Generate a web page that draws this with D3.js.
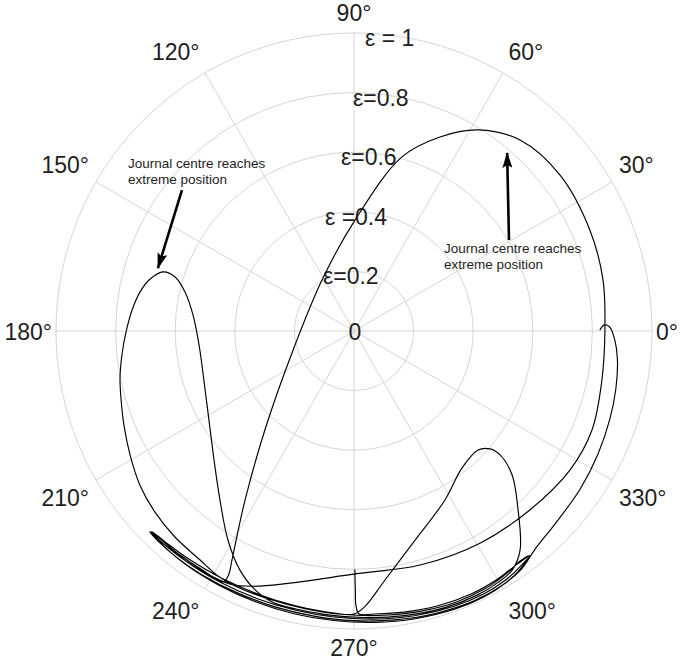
<!DOCTYPE html>
<html>
<head>
<meta charset="utf-8">
<script src="https://cdn.jsdelivr.net/npm/d3@7"></script>
<style>
  html, body { margin: 0; padding: 0; background: #ffffff; }
  svg { display: block; }
</style>
</head>
<body>
<svg id="chart" width="685" height="664"></svg>
<script>
// ---------------- data ----------------
const angleTicks  = [0, 30, 60, 90, 120, 150, 180, 210, 240, 270, 300, 330];
const angleLabels = ["0°", "30°", "60°", "90°", "120°", "150°", "180°", "210°", "240°", "270°", "300°", "330°"];
const ringValues  = [0.2, 0.4, 0.6, 0.8, 1.0];
const ringLabels  = ["ε=0.2", "ε =0.4", "ε=0.6", "ε=0.8", "ε = 1"];
const centreLabel = "0";

// journal-centre orbit, [theta (deg), eccentricity ratio ε], in time order
const hookStart = [[0.2,0.825],[1.4,0.840],[0.9,0.858],[358.2,0.875],[353.9,0.889],[347.5,0.900],[341.0,0.908],[333.2,0.917],[325.0,0.926],[316.2,0.935],[310.0,0.950]];
const bandPass1 = [[305,0.977],[300,0.988],[294,0.991],[286,0.986],[278,0.979],[270,0.972],[262,0.966],[254,0.963],[246,0.962],[238,0.964],[232,0.965],[227,0.964],[224.5,0.961]];
const bandPass2 = [[226,0.955],[232,0.952],[238,0.950],[242.5,0.949]];
const bigLoop   = [[242.8,0.920],[241.95,0.871],[237.2,0.675],[228.0,0.447],[197.3,0.214],[122.1,0.202],[89.5,0.372],[74.6,0.606],[66.1,0.712],[58.3,0.793],[49.0,0.849],[37.1,0.867],[23.2,0.861],[11.6,0.853],[0.2,0.842],[348.8,0.848],[337.4,0.865],[327.2,0.862],[314.5,0.842],[300.7,0.828],[285.8,0.816],[270.2,0.815],[257.9,0.861],[249.8,0.912],[244.2,0.945]];
const bandPass3 = [[238,0.953],[232,0.957],[227,0.959],[224.8,0.960]];
const bandPass4 = [[227,0.954],[234,0.956],[242,0.955],[250,0.955],[258,0.957],[266,0.962],[274,0.969],[282,0.977],[290,0.983],[296,0.984],[301,0.979],[305,0.968],[308,0.956]];
const bandPass5 = [[306,0.952],[302,0.962],[297,0.970],[291,0.972],[284,0.967],[276,0.959],[268,0.952],[260,0.946],[252,0.944],[245,0.944]];
const leftLobe  = [[240.97,0.940],[236.1,0.926],[229.0,0.916],[222.3,0.903],[215.7,0.885],[209.0,0.859],[202.2,0.834],[196.5,0.815],[191.4,0.801],[185.9,0.783],[180.25,0.765],[174.6,0.748],[169.7,0.730],[165.7,0.706],[162.8,0.671],[163.2,0.627],[167.0,0.582],[174.3,0.543],[185.2,0.522],[198.1,0.530],[211.5,0.571],[222.7,0.639],[231.6,0.724],[238.9,0.819],[244.5,0.889],[249.1,0.930],[253.2,0.950]];
const bandPass6 = [[258,0.953],[264,0.956],[272,0.962],[280,0.970],[288,0.977],[295,0.978],[300,0.972],[303.5,0.962]];
const rightLobe = [[307.2,0.922],[312.5,0.815],[317.7,0.717],[319.7,0.643],[319.1,0.604],[316.2,0.577],[308.3,0.585],[298.3,0.644],[286.3,0.731],[277.1,0.842],[272.3,0.925],[270.0,0.950]];
const bandPass7 = [[266,0.949],[258,0.943],[250,0.940],[242,0.941],[234,0.945],[228,0.950],[224.8,0.956]];
const bandPass8 = [[227,0.962],[234,0.966],[242,0.966],[250,0.967],[258,0.970],[266,0.974],[274,0.980],[282,0.987],[290,0.993],[296,0.993],[301,0.987],[305,0.974],[307.8,0.958]];
const bandPass9 = [[305,0.955],[300,0.962],[294,0.966],[287,0.964],[280,0.958],[274,0.952],[271,0.950]];
const tailEnd   = [[270.4,0.920],[270.3,0.870],[270.2,0.800]];

// annotations: arrow tail / head in [theta, ε]
const annotationText = ["Journal centre reaches", "extreme position"];
const leftArrow  = [[140.7,0.746],[162.2,0.691]];
const rightArrow = [[30.4,0.603],[49.3,0.788]];

// ---------------- layout ----------------
const W = 685, H = 664;
const cx = 354, cy = 331, R = 298;
const fontFamily = "'Liberation Sans', Arial, Helvetica, sans-serif";
const gridColor = "#d6d6d6";
const textColor = "#1e1e1e";

const svg = d3.select("#chart");
svg.append("rect").attr("width", W).attr("height", H).attr("fill", "#fff");

const rScale = d3.scaleLinear().domain([0, 1]).range([0, R]);
const toXY = (t, e) => {
  const a = t * Math.PI / 180, r = rScale(e);
  return [cx + r * Math.cos(a), cy - r * Math.sin(a)];
};

// grid
const grid = svg.append("g").attr("fill", "none").attr("stroke", gridColor).attr("stroke-width", 1);
grid.selectAll("circle").data(ringValues).join("circle")
  .attr("cx", cx).attr("cy", cy).attr("r", d => rScale(d));
grid.selectAll("line").data(angleTicks).join("line")
  .attr("x1", cx).attr("y1", cy)
  .attr("x2", d => toXY(d, 1)[0]).attr("y2", d => toXY(d, 1)[1]);

// angle labels
svg.append("g").selectAll("text").data(angleTicks).join("text")
  .each(function(d, i) {
    const a = d * Math.PI / 180, c = Math.cos(a), s = Math.sin(a);
    const rx = R + 4 + 8 * Math.abs(s);
    const ry = R + 12;
    let x = cx + c * rx;
    let y = cy - s * ry;
    let anchor = "middle";
    if (c > 0.1) anchor = "start"; else if (c < -0.1) anchor = "end";
    if (s > 0.1) y -= 11; else if (s < -0.1) y += 12;
    if (s > 0.99) y += 3;
    if (s < -0.99) y -= 5;
    if (Math.abs(s) < 0.1) y = cy + 1;
    d3.select(this).attr("x", x).attr("y", y).attr("text-anchor", anchor)
      .attr("dominant-baseline", "central").text(angleLabels[i]);
  })
  .attr("font-family", fontFamily).attr("font-size", 23).attr("fill", textColor);

// ring labels (along 90° spoke)
const ringLabelDx = [-31, -29, -13, -1, 11];
svg.append("g").selectAll("text").data(ringValues).join("text")
  .attr("x", (d, i) => cx + ringLabelDx[i])
  .attr("y", d => cy - rScale(d) + 5)
  .attr("dominant-baseline", "central")
  .attr("font-family", fontFamily).attr("font-size", 23).attr("fill", textColor)
  .text((d, i) => ringLabels[i]);
svg.append("text").attr("x", cx + 1).attr("y", cy + 1)
  .attr("text-anchor", "middle").attr("dominant-baseline", "central")
  .attr("font-family", fontFamily).attr("font-size", 23).attr("fill", textColor)
  .text(centreLabel);

// orbit
const orbit = [].concat(hookStart, bandPass1, bandPass2, bigLoop, bandPass3, bandPass4, bandPass5,
  leftLobe, bandPass6, rightLobe, bandPass7, bandPass8, bandPass9, tailEnd);
const line = d3.lineRadial()
  .angle(d => (90 - d[0]) * Math.PI / 180)
  .radius(d => rScale(d[1]))
  .curve(d3.curveCatmullRom.alpha(0.5));
svg.append("path")
  .attr("transform", `translate(${cx},${cy})`)
  .attr("d", line(orbit))
  .attr("fill", "none").attr("stroke", "#000").attr("stroke-width", 1.15)
  .attr("stroke-linejoin", "round");

// arrows
const defs = svg.append("defs");
defs.append("marker").attr("id", "ah").attr("markerUnits", "userSpaceOnUse")
  .attr("viewBox", "0 0 16 10").attr("refX", 15).attr("refY", 5)
  .attr("markerWidth", 16).attr("markerHeight", 10).attr("orient", "auto")
  .append("path").attr("d", "M0,0 L16,5 L0,10 L3,5 Z").attr("fill", "#000");
[leftArrow, rightArrow].forEach(a => {
  const p0 = toXY(a[0][0], a[0][1]), p1 = toXY(a[1][0], a[1][1]);
  svg.append("line").attr("x1", p0[0]).attr("y1", p0[1]).attr("x2", p1[0]).attr("y2", p1[1])
    .attr("stroke", "#000").attr("stroke-width", 2.6).attr("marker-end", "url(#ah)");
});

// annotation texts
const notePos = [[128, 163], [444, 248]];
notePos.forEach(p => {
  const t = svg.append("text").attr("x", p[0]).attr("y", p[1])
    .attr("font-family", fontFamily).attr("font-size", 13.5).attr("fill", textColor);
  annotationText.forEach((s, i) => {
    t.append("tspan").attr("x", p[0]).attr("y", p[1] + i * 16.5).attr("dominant-baseline", "central").text(s);
  });
});
</script>
</body>
</html>
